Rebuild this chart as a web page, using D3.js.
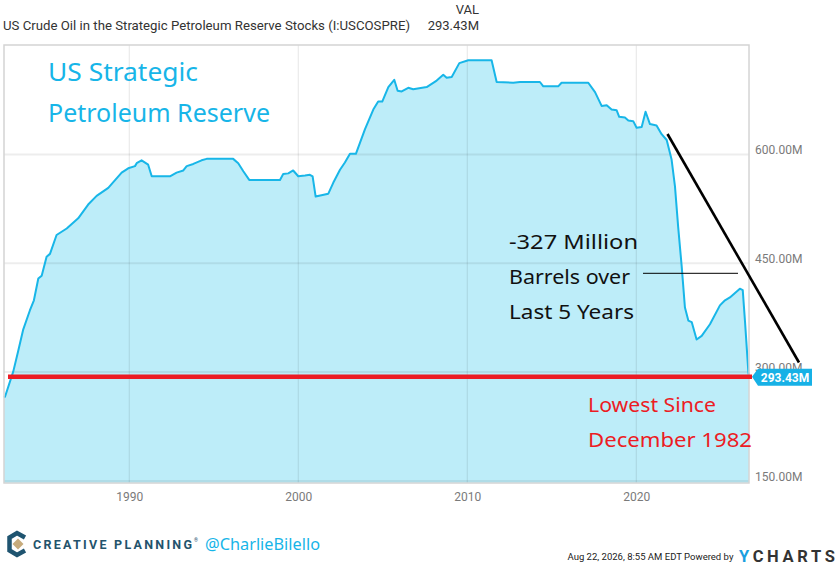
<!DOCTYPE html>
<html>
<head>
<meta charset="utf-8">
<script src="https://cdn.jsdelivr.net/npm/d3@7/dist/d3.min.js"></script>
<style>
  html, body { margin: 0; padding: 0; background: #fff; }
  svg { display: block; }
  text { font-family: Roboto, "Noto Sans", sans-serif; }
  .hand { font-family: "Noto Sans", "Open Sans", sans-serif; }
</style>
</head>
<body>
<svg id="chart" width="838" height="565"></svg>
<script>
// ---------- DATA ----------
const years = [1982.59, 1982.65, 1983.14, 1983.43, 1983.73, 1984.12, 1984.36, 1984.62, 1984.82, 1985.11,
  1985.31, 1985.70, 1986.30, 1986.98, 1987.57, 1988.07, 1988.76, 1989.55, 1989.94, 1990.34,
  1990.44, 1990.73, 1991.12, 1991.33, 1992.41, 1992.80, 1993.20, 1993.40, 1993.79, 1994.28,
  1994.58, 1996.15, 1996.45, 1996.75, 1997.10, 1998.92, 1999.11, 1999.41, 1999.70, 2000.00,
  2000.40, 2000.69, 2000.85, 2001.03, 2001.78, 2002.07, 2002.47, 2002.76, 2003.06, 2003.41,
  2003.95, 2004.44, 2004.73, 2004.97, 2005.33, 2005.68, 2005.88, 2006.12, 2006.51, 2006.80,
  2007.60, 2008.19, 2008.58, 2008.78, 2009.08, 2009.53, 2010.06, 2011.44, 2011.74, 2012.72,
  2013.12, 2014.30, 2014.50, 2015.38, 2015.58, 2017.16, 2017.56, 2017.95, 2018.25, 2018.54,
  2018.84, 2018.99, 2019.33, 2019.53, 2019.82, 2020.02, 2020.32, 2020.55, 2020.81, 2021.20,
  2021.50, 2021.80, 2022.09, 2022.29, 2022.48, 2022.69, 2022.88, 2023.08, 2023.28, 2023.57,
  2023.87, 2024.36, 2024.95, 2025.25, 2025.54, 2026.13, 2026.30, 2026.43, 2026.63, 2026.67];
// Stocks, millions of barrels
const stocks = [265, 266, 301, 329, 359, 385, 399, 429, 433, 459,
  463, 489, 498, 512, 531, 543, 554, 575, 581, 584,
  588, 592, 586, 570, 570, 575, 578, 584, 587, 592,
  594, 594, 588, 577, 565, 565, 573, 574, 578, 570,
  571, 572, 570, 542, 546, 561, 579, 589, 601, 601,
  635, 662, 673, 673, 693, 703, 688, 687, 692, 690,
  693, 702, 710, 706, 707, 726, 730, 730, 700, 699,
  700, 700, 694, 694, 699, 699, 686, 667, 668, 662,
  661, 652, 651, 647, 646, 637, 638, 659, 642, 640,
  628, 620, 593, 556, 500, 445, 389, 371, 369, 345,
  350, 366, 392, 399, 403, 415, 413, 371, 301, 293.43];
const xTicks = [1990, 2000, 2010, 2020];
const yTicks = [150, 300, 450, 600];
const lastValue = 293.43;
const yearRange = [1982.59, 2026.67];
const valueRange = [147.1, 751];

// ---------- LAYOUT ----------
const svg = d3.select("#chart");
const L = 4, R = 749, T = 45, B = 483;
const x = d3.scaleLinear().domain(yearRange).range([L, R]);
const y = d3.scaleLinear().domain(valueRange).range([B, T]);
const data = years.map((yr, i) => ({ yr, v: stocks[i] }));

svg.append("rect").attr("width", 838).attr("height", 565).attr("fill", "#fff");

// header
svg.append("text").attr("x", 3).attr("y", 30).attr("font-size", 13).attr("fill", "#333")
  .attr("textLength", 407).attr("lengthAdjust", "spacingAndGlyphs")
  .text("US Crude Oil in the Strategic Petroleum Reserve Stocks (I:USCOSPRE)");
svg.append("text").attr("x", 479).attr("y", 14).attr("font-size", 13).attr("fill", "#333")
  .attr("text-anchor", "end").text("VAL");
svg.append("text").attr("x", 479).attr("y", 30).attr("font-size", 13).attr("fill", "#333")
  .attr("text-anchor", "end").text("293.43M");

// area + line
const area = d3.area().x(d => x(d.yr)).y0(B).y1(d => y(d.v));
const line = d3.line().x(d => x(d.yr)).y(d => y(d.v));
svg.append("path").datum(data).attr("d", area).attr("fill", "#bdedf9");

// gridlines (over area)
svg.append("g").selectAll("line").data(yTicks).join("line")
  .attr("x1", L).attr("x2", R).attr("y1", d => y(d)).attr("y2", d => y(d))
  .attr("stroke", "#000").attr("stroke-opacity", 0.07).attr("stroke-width", 2);
svg.append("g").selectAll("line").data(xTicks).join("line")
  .attr("x1", d => x(d)).attr("x2", d => x(d)).attr("y1", T).attr("y2", B)
  .attr("stroke", "#000").attr("stroke-opacity", 0.1).attr("stroke-width", 1);

svg.append("path").datum(data).attr("d", line).attr("fill", "none")
  .attr("stroke", "#18b6e8").attr("stroke-width", 2).attr("stroke-linejoin", "round");

// frame
svg.append("rect").attr("x", L).attr("y", T).attr("width", R - L).attr("height", B - T)
  .attr("fill", "none").attr("stroke", "#d4d4d4").attr("stroke-width", 1.5);

// axes
const xAxis = d3.axisBottom(x).tickValues(xTicks).tickFormat(d3.format("d")).tickSize(0).tickPadding(0);
const gx = svg.append("g").attr("transform", `translate(0,${B})`).call(xAxis);
gx.select(".domain").remove();
gx.selectAll("text").attr("font-size", 12).attr("fill", "#7a7a7a")
  .attr("font-family", "Roboto, sans-serif").attr("dy", null).attr("y", 18);

const yAxis = d3.axisRight(y).tickValues(yTicks).tickFormat(d => d3.format(".2f")(d) + "M").tickSize(0).tickPadding(0);
const gy = svg.append("g").attr("transform", `translate(755,0)`).call(yAxis);
gy.select(".domain").remove();
gy.selectAll("text").attr("font-size", 12).attr("fill", "#7a7a7a")
  .attr("font-family", "Roboto, sans-serif").attr("x", 0).attr("dy", "-0.05em");

// red "lowest" line
svg.append("line").attr("x1", 8).attr("x2", 752).attr("y1", y(lastValue)).attr("y2", y(lastValue))
  .attr("stroke", "#ec1c24").attr("stroke-width", 4.5);

// last value tag
const ty = y(lastValue);
svg.append("path")
  .attr("d", `M752,${ty} L758,${ty - 8} L812,${ty - 8} L812,${ty + 9} L758,${ty + 9} Z`)
  .attr("fill", "#17b1e6");
svg.append("text").attr("x", 785).attr("y", ty + 5).attr("text-anchor", "middle")
  .attr("font-size", 12).attr("font-weight", "bold").attr("fill", "#fff").text("293.43M");

// annotation lines
svg.append("line").attr("x1", 667.5).attr("y1", 134).attr("x2", 799).attr("y2", 362.5)
  .attr("stroke", "#000").attr("stroke-width", 2.6);
svg.append("line").attr("x1", 643).attr("y1", 273.3).attr("x2", 738).attr("y2", 273.3)
  .attr("stroke", "#000").attr("stroke-width", 1);

// annotation texts
function hand(tx, ty2, s, size, color, len) {
  svg.append("text").attr("class", "hand").attr("x", tx).attr("y", ty2)
    .attr("font-size", size).attr("fill", color)
    .attr("textLength", len).attr("lengthAdjust", "spacingAndGlyphs").text(s);
}
hand(48, 81, "US Strategic", 25, "#17b5e8", 150);
hand(48, 122, "Petroleum Reserve", 25, "#17b5e8", 222);
hand(509, 249, "-327 Million", 20, "#111", 129);
hand(509, 284, "Barrels over", 20, "#111", 121);
hand(509, 319, "Last 5 Years", 20, "#111", 125);
hand(588, 412, "Lowest Since", 19, "#ec1c24", 128);
hand(588, 447, "December 1982", 19, "#ec1c24", 164);

// footer: Creative Planning logo
svg.append("path").attr("d", "M25,537.5 L17,533 L9.5,537.5 L9.5,550.5 L17,555 L25,550.5")
  .attr("fill", "none").attr("stroke", "#1f5470").attr("stroke-width", 4.5).attr("stroke-linejoin", "miter");
svg.append("path").attr("d", "M18,538.5 L23.5,544 L18,549.5 L12.5,544 Z").attr("fill", "#c7ab7c");
svg.append("text").attr("x", 33).attr("y", 548.5).attr("font-size", 12.5).attr("font-weight", "bold")
  .attr("fill", "#23536c").attr("textLength", 159).attr("lengthAdjust", "spacing")
  .attr("font-family", "Lato, 'Open Sans', sans-serif").text("CREATIVE PLANNING");
svg.append("text").attr("x", 194).attr("y", 542).attr("font-size", 5).attr("fill", "#23536c").text("®");
hand(205, 550, "@CharlieBilello", 17, "#17b5e8", 115);

// footer right: size the stamp so its natural width fits before the logo
const stamp = svg.append("text").attr("x", 567.5).attr("y", 560).attr("font-size", 11).attr("fill", "#222")
  .text("Aug 22, 2026, 8:55 AM EDT Powered by");
const natural = stamp.node().getComputedTextLength();
stamp.attr("font-size", (11 * 166 / natural).toFixed(2));
const yc = svg.append("text").attr("x", 739).attr("y", 561.5).attr("font-size", 16.5)
  .attr("font-weight", "bold").attr("font-family", "Roboto, sans-serif")
  .attr("textLength", 96).attr("lengthAdjust", "spacing");
yc.append("tspan").attr("fill", "#1a9fe0").text("Y");
yc.append("tspan").attr("fill", "#333").text("CHARTS");
</script>
</body>
</html>
